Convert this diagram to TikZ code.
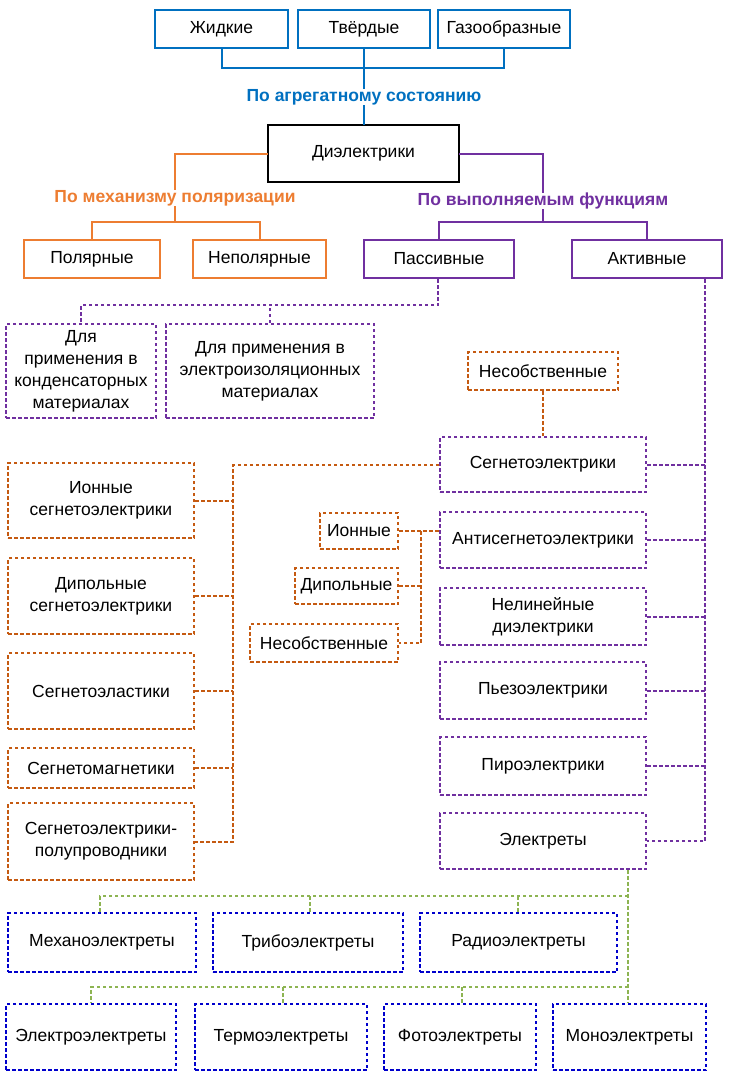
\documentclass[tikz,border=0pt]{standalone}
\usepackage{fontspec}
\setmainfont{Liberation Sans}
\begin{document}
\newcommand\bx[7]{\node[#1,minimum width={#4-#3},minimum height={#6-#5}] (#2) at ({(#3+#4)/2},{(#5+#6)/2}) {#7};}
\begin{tikzpicture}[x=1pt,y=-1pt,
  font=\fontsize{17.5}{22}\selectfont,
  every node/.style={inner sep=0pt,align=center},
  dt/.style={dash pattern=on 3.5pt off 2.5pt,line width=2pt},
  tb/.style={draw=cB,line width=2pt},
  ob/.style={draw=cO,line width=2pt},
  pb/.style={draw=cP,line width=2pt},
  pd/.style={draw=cP,dt},
  bd/.style={draw=cBr,dt},
  nd/.style={draw=cN,dt},
  lb/.style={font=\fontsize{17.5}{22}\selectfont\bfseries}]
\definecolor{cB}{HTML}{0070C0}
\definecolor{cO}{HTML}{ED7D31}
\definecolor{cP}{HTML}{7030A0}
\definecolor{cBr}{HTML}{C55A11}
\definecolor{cG}{HTML}{8DB452}
\definecolor{cN}{HTML}{0000CC}
\useasboundingbox (0,0) rectangle (731,1082);
% top
\bx{tb}{zh}{155}{288}{10}{48}{Жидкие}
\bx{tb}{tv}{298}{430}{10}{48}{Твёрдые}
\bx{tb}{ga}{438}{570}{10}{48}{Газообразные}
\node[lb,text=cB] (agr) at (364,97) {По агрегатному состоянию};
\draw[draw=black,line width=2.5pt] (268,125) rectangle (459,182);
\node (di) at (363.5,153.5) {Диэлектрики};
\node[minimum width=191,minimum height=57] (dib) at (363.5,153.5) {};
\coordinate (tj) at (364,68);
\draw[cB,line width=2pt] (zh.south) |- (tj) -| (ga.south) (tv.south) -- (agr.north);
\draw[cB,line width=2pt] (agr.south) -- (agr.south |- dib.north);
\node[lb,text=cO] (meh) at (175,198) {По механизму поляризации};
\node[lb,text=cP] (fun) at (543,201) {По выполняемым функциям};
\draw[cO,line width=2pt] (dib.west) -| (meh.north);
\draw[cP,line width=2pt] (dib.east) -| (fun.north);
\bx{ob}{pol}{24}{160}{240}{278}{Полярные}
\bx{ob}{npol}{193}{326}{240}{278}{Неполярные}
\bx{pb}{pas}{364}{514}{240}{278}{Пассивные}
\bx{pb}{akt}{572}{722}{240}{278}{Активные}
\coordinate (oj) at (175,222);
\coordinate (pj) at (543,222);
\draw[cO,line width=2pt] (meh.south) -- (oj) (pol.north) |- (oj) -| (npol.north);
\draw[cP,line width=2pt] (fun.south) -- (pj) (pas.north) |- (pj) -| (akt.north);
% passive
\bx{pd}{k1}{6}{156}{324}{418}{Для\\применения в\\конденсаторных\\материалах}
\bx{pd}{k2}{166}{374}{324}{418}{Для применения в\\электроизоляционных\\материалах}
\coordinate (pp) at (438,305);
\draw[cP,dt] (pas.south -| pp) -- (pp) -| (k1.north) (k2.north) -- (k2.north |- pp);
% right column
\bx{bd}{nes}{468}{618}{352}{390}{Несобственные}
\bx{pd}{sg}{440}{646}{437}{492}{Сегнетоэлектрики}
\bx{pd}{an}{440}{646}{512}{568}{Антисегнетоэлектрики}
\bx{pd}{nl}{440}{646}{588}{645}{Нелинейные\\диэлектрики}
\bx{pd}{pz}{440}{646}{662}{719}{Пьезоэлектрики}
\bx{pd}{pr}{440}{646}{737}{795}{Пироэлектрики}
\bx{pd}{el}{440}{646}{813}{869}{Электреты}
\draw[cBr,dt] (nes.south -| sg.north) -- (sg.north);
\coordinate (ar) at (705,841);
\draw[cP,dt] (akt.south -| ar) -- (ar) -- (el.east);
\foreach \n in {sg,an,nl,pz,pr} \draw[cP,dt] (\n.east) -- (\n.east -| ar);
% left column
\bx{bd}{l1}{8}{194}{463}{538}{Ионные\\сегнетоэлектрики}
\bx{bd}{l2}{8}{194}{558}{634}{Дипольные\\сегнетоэлектрики}
\bx{bd}{l3}{8}{194}{653}{729}{Сегнетоэластики}
\bx{bd}{l4}{8}{194}{748}{788}{Сегнетомагнетики}
\bx{bd}{l5}{8}{194}{803}{880}{Сегнетоэлектрики-\\полупроводники}
\coordinate (lv) at (233,465);
\draw[cBr,dt] (sg.west |- lv) -- (lv) -- (lv |- l5.east) -- (l5.east);
\foreach \n in {l1,l2,l3,l4} \draw[cBr,dt] (\n.east) -- (\n.east -| lv);
% middle
\bx{bd}{m1}{320}{398}{513}{549}{Ионные}
\bx{bd}{m2}{295}{398}{568}{604}{Дипольные}
\bx{bd}{m3}{250}{398}{624}{662}{Несобственные}
\coordinate (mv) at (421,531);
\draw[cBr,dt] (m1.east) -- (an.west |- m1.east) (mv) |- (m3.east) (m2.east) -- (m2.east -| mv);
% electrets
\bx{nd}{e1}{8}{196}{913}{972}{Механоэлектреты}
\bx{nd}{e2}{213}{403}{913}{972}{Трибоэлектреты}
\bx{nd}{e3}{420}{617}{913}{972}{Радиоэлектреты}
\bx{nd}{f1}{6}{176}{1004}{1070}{Электроэлектреты}
\bx{nd}{f2}{195}{367}{1004}{1070}{Термоэлектреты}
\bx{nd}{f3}{384}{536}{1004}{1070}{Фотоэлектреты}
\bx{nd}{f4}{553}{706}{1004}{1070}{Моноэлектреты}
\coordinate (g1) at (628,896);
\coordinate (g2) at (628,987);
\draw[cG,dt,line width=1.6pt] (el.south -| g1) -- (f4.north -| g1)
  (g1) -- (100,896) -- (e1.north -| 100,0)
  (310,896) -- (e2.north -| 310,0) (518,896) -- (e3.north -| 518,0)
  (g2) -- (91,987) -- (f1.north -| 91,0)
  (283,987) -- (f2.north -| 283,0) (462,987) -- (f3.north -| 462,0);
\end{tikzpicture}
\end{document}
